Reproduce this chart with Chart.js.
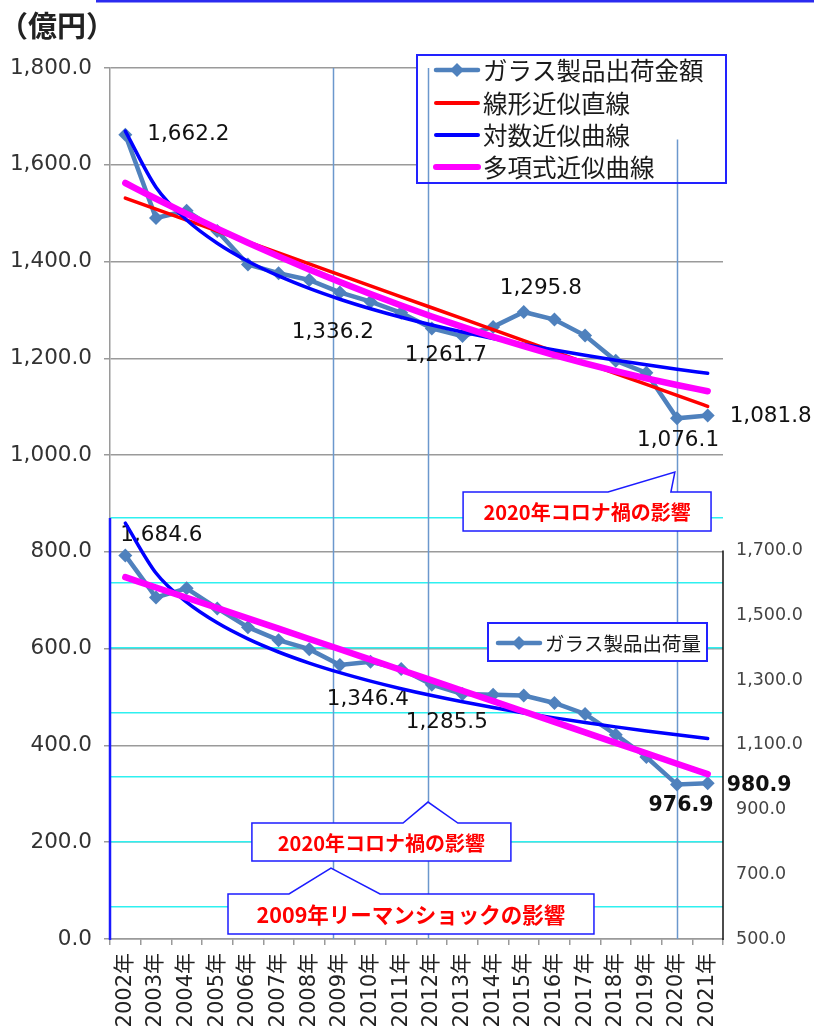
<!DOCTYPE html>
<html>
<head>
<meta charset="utf-8">
<title>ガラス製品出荷金額・出荷量</title>
<script src="https://cdn.jsdelivr.net/npm/chart.js"></script>
<style>
  body { margin: 0; background: #fff; }
  canvas { display: block; }
</style>
</head>
<body>
<canvas id="glassChart" width="814" height="1031"></canvas>
<script>
  // --- data ---
  const years = ['2002年', '2003年', '2004年', '2005年', '2006年', '2007年', '2008年', '2009年', '2010年', '2011年',
                 '2012年', '2013年', '2014年', '2015年', '2016年', '2017年', '2018年', '2019年', '2020年', '2021年'];
  // 出荷金額 (億円, left axis)
  const amount = [1662.2, 1490, 1505, 1463, 1394, 1376, 1362, 1336.2, 1317, 1294,
                  1261.7, 1246, 1265, 1295.8, 1280, 1247, 1195, 1170, 1076.1, 1081.8];
  // 出荷量 (right axis)
  const quantity = [1684.6, 1555, 1583, 1521, 1463, 1423, 1395, 1346.4, 1356, 1334,
                    1285.5, 1257, 1254, 1252, 1229, 1195, 1131, 1062, 976.9, 980.9];
  const leftTicks = [0, 200, 400, 600, 800, 1000, 1200, 1400, 1600, 1800];
  const rightTicks = [500, 700, 900, 1100, 1300, 1500, 1700];
  const rightGrid = [600, 800, 1000, 1200, 1400, 1600, 1800];
  const amountLabelYears = ['2002年', '2009年', '2012年', '2015年', '2020年', '2021年'];
  const quantityLabelYears = ['2002年', '2009年', '2012年', '2020年', '2021年'];
  const eventYears = ['2009年', '2012年', '2020年'];

  const tickFont = "'DejaVu Sans', 'Noto Sans CJK JP', sans-serif";
  const jpFont = "'Noto Sans CJK JP', sans-serif";
  const fmt = v => v.toLocaleString('en-US', { minimumFractionDigits: 1, maximumFractionDigits: 1 });

  // trend lines, same fits as the spreadsheet (x = 1..n)
  function fitLine(ys, tx) {
    const n = ys.length;
    let sx = 0, sy = 0, sxx = 0, sxy = 0;
    ys.forEach((y, i) => { const x = tx(i + 1); sx += x; sy += y; sxx += x * x; sxy += x * y; });
    const b = (n * sxy - sx * sy) / (n * sxx - sx * sx);
    const a = (sy - b * sx) / n;
    return ys.map((_, i) => a + b * tx(i + 1));
  }
  const linearTrend = ys => fitLine(ys, x => x);
  const logTrend = ys => fitLine(ys, x => Math.log(x));
  function polyTrend(ys) {
    const S = [0, 0, 0, 0, 0], T = [0, 0, 0];
    ys.forEach((y, i) => {
      const x = i + 1;
      for (let k = 0; k < 5; k++) S[k] += Math.pow(x, k);
      for (let k = 0; k < 3; k++) T[k] += Math.pow(x, k) * y;
    });
    const m = [[S[0], S[1], S[2], T[0]], [S[1], S[2], S[3], T[1]], [S[2], S[3], S[4], T[2]]];
    for (let c = 0; c < 3; c++) {
      for (let r = c + 1; r < 3; r++) {
        const f = m[r][c] / m[c][c];
        for (let k = c; k < 4; k++) m[r][k] -= f * m[c][k];
      }
    }
    const co = [0, 0, 0];
    for (let r = 2; r >= 0; r--) {
      let s = m[r][3];
      for (let k = r + 1; k < 3; k++) s -= m[r][k] * co[k];
      co[r] = s / m[r][r];
    }
    return ys.map((_, i) => co[0] + co[1] * (i + 1) + co[2] * (i + 1) * (i + 1));
  }

  const callouts = [
    { text: '2020年コロナ禍の影響', size: 20, box: [11.02, 923.8, 19.11, 843.2], tip: [15.75, 17.93, 965, 17.8] },
    { text: '2020年コロナ禍の影響', size: 20, box: [4.13, 239.7, 12.58, 161.2], tip: [9.06, 9.875, 283, 10.85] },
    { text: '2009年リーマンショックの影響', size: 21.5, box: [3.35, 93, 15.29, 10.3], tip: [5.34, 6.71, 146.7, 8.31] }
  ];
  // event lines sit a little left of the category centre in the original
  const eventShift = [-0.22, -0.12, 0];

  function legendRow(ctx, x0, y, color, width, marker, text, size) {
    ctx.strokeStyle = color;
    ctx.lineWidth = width;
    ctx.lineCap = 'round';
    ctx.beginPath(); ctx.moveTo(x0, y); ctx.lineTo(x0 + 42, y); ctx.stroke();
    if (marker) {
      ctx.fillStyle = color;
      ctx.beginPath();
      ctx.moveTo(x0 + 21, y - 7); ctx.lineTo(x0 + 28, y); ctx.lineTo(x0 + 21, y + 7); ctx.lineTo(x0 + 14, y);
      ctx.closePath(); ctx.fill();
    }
    ctx.fillStyle = '#1a1a1a';
    ctx.font = size + 'px ' + jpFont;
    ctx.textAlign = 'left';
    ctx.textBaseline = 'middle';
    ctx.fillText(text, x0 + 47, y + 1);
  }

  function pointLabels(chart, dsIndex, list, style) {
    const ctx = chart.ctx, meta = chart.getDatasetMeta(dsIndex), data = chart.data.datasets[dsIndex].data;
    list.forEach((yr, k) => {
      const i = years.indexOf(yr), p = meta.data[i], s = style[k];
      ctx.font = s[3] + ' ' + tickFont;
      ctx.textAlign = s[2];
      ctx.textBaseline = 'middle';
      ctx.fillStyle = '#111';
      ctx.fillText(fmt(data[i]), p.x + s[0], p.y + s[1]);
    });
  }

  const overlay = {
    id: 'overlay',
    beforeDatasetsDraw(chart) {
      const ctx = chart.ctx, x = chart.scales.x, y = chart.scales.y, y2 = chart.scales.y2, a = chart.chartArea;
      ctx.save();
      ctx.fillStyle = '#fff';
      ctx.fillRect(417, 55, 309, 128);

      // event lines
      ctx.strokeStyle = '#6b98cd';
      ctx.lineWidth = 1.5;
      eventYears.forEach((yr, k) => {
        const px = Math.round(x.getPixelForValue(years.indexOf(yr) + eventShift[k])) + 0.5;
        const top = k === 2 ? y.getPixelForValue(1652) : a.top;
        ctx.beginPath(); ctx.moveTo(px, top); ctx.lineTo(px, a.bottom); ctx.stroke();
      });

      // lower chart frame and right axis line
      ctx.strokeStyle = '#1a1aff';
      ctx.lineWidth = 2.5;
      ctx.beginPath(); ctx.moveTo(a.left, y2.getPixelForValue(1800)); ctx.lineTo(a.left, a.bottom + 1); ctx.stroke();
      ctx.strokeStyle = '#111';
      ctx.lineWidth = 1.5;
      ctx.beginPath(); ctx.moveTo(a.right, y2.getPixelForValue(1700)); ctx.lineTo(a.right, a.bottom + 1); ctx.stroke();

      // upper legend
      ctx.strokeStyle = '#2222ff';
      ctx.lineWidth = 2;
      ctx.strokeRect(417, 55, 309, 128);
      legendRow(ctx, 436, 70, '#4f81bd', 4.5, true, 'ガラス製品出荷金額', 24.5);
      legendRow(ctx, 436, 103, '#ff0000', 4, false, '線形近似直線', 24.5);
      legendRow(ctx, 436, 135, '#0000ff', 4, false, '対数近似曲線', 24.5);
      legendRow(ctx, 436, 167, '#ff00ff', 6, false, '多項式近似曲線', 24.5);

      // lower legend
      ctx.fillStyle = '#fff';
      ctx.fillRect(488, 623, 219, 38);
      ctx.strokeStyle = '#2222ff';
      ctx.lineWidth = 2;
      ctx.strokeRect(488, 623, 219, 38);
      legendRow(ctx, 498, 643, '#4f81bd', 4.5, true, 'ガラス製品出荷量', 19.5);

      // value labels
      pointLabels(chart, 0, amountLabelYears, [
        [22, 0, 'left', '21.5px'], [-7, 40, 'center', '21.5px'], [14, 27, 'center', '21.5px'],
        [17, -24, 'center', '21.5px'], [1, 22, 'center', '21.5px'], [22, 1, 'left', '21.5px']
      ]);
      pointLabels(chart, 4, quantityLabelYears, [
        [-5, -20, 'left', '21.5px'], [28, 34, 'center', '21.5px'], [15, 38, 'center', '21.5px'],
        [4, 21, 'center', 'bold 20.5px'], [19, 2, 'left', 'bold 20.5px']
      ]);
      ctx.restore();
    },
    afterDatasetsDraw(chart) {
      const ctx = chart.ctx, x = chart.scales.x, y = chart.scales.y;
      ctx.save();
      callouts.forEach(c => {
        const L = x.getPixelForValue(c.box[0]), R = x.getPixelForValue(c.box[2]);
        const T = y.getPixelForValue(c.box[1]), B = y.getPixelForValue(c.box[3]);
        const ax = x.getPixelForValue(c.tip[0]), tx = x.getPixelForValue(c.tip[1]);
        const ty = y.getPixelForValue(c.tip[2]), bx = x.getPixelForValue(c.tip[3]);
        ctx.beginPath();
        ctx.moveTo(L, T); ctx.lineTo(ax, T); ctx.lineTo(tx, ty); ctx.lineTo(bx, T);
        ctx.lineTo(R, T); ctx.lineTo(R, B); ctx.lineTo(L, B); ctx.closePath();
        ctx.fillStyle = '#fff';
        ctx.fill();
        ctx.strokeStyle = '#1c1cff';
        ctx.lineWidth = 1.5;
        ctx.lineJoin = 'miter';
        ctx.stroke();
        ctx.fillStyle = '#ff0000';
        ctx.font = 'bold ' + c.size + 'px ' + jpFont;
        ctx.textAlign = 'center';
        ctx.textBaseline = 'middle';
        ctx.fillText(c.text, (L + R) / 2, (T + B) / 2 + 1);
      });

      ctx.fillStyle = '#222';
      ctx.font = 'bold 29px ' + jpFont;
      ctx.textAlign = 'left';
      ctx.textBaseline = 'middle';
      ctx.fillText('（億円）', -1, 26);

      ctx.strokeStyle = '#2b2bf0';
      ctx.lineWidth = 3;
      ctx.beginPath(); ctx.moveTo(96, 1); ctx.lineTo(814, 1); ctx.stroke();
      ctx.restore();
    }
  };

  const series = (label, data, axis, order) => ({
    label, data, yAxisID: axis, order,
    borderColor: '#4f81bd', backgroundColor: '#4f81bd', borderWidth: 4.5,
    pointStyle: 'rectRot', pointRadius: 7, pointBorderWidth: 0
  });
  const trend = (label, data, axis, color, width, order) => ({
    label, data, yAxisID: axis, order,
    borderColor: color, borderWidth: width, pointRadius: 0,
    cubicInterpolationMode: 'monotone', borderCapStyle: 'round'
  });

  new Chart(document.getElementById('glassChart'), {
    type: 'line',
    data: {
      labels: years,
      datasets: [
        series('ガラス製品出荷金額', amount, 'y', 6),
        trend('線形近似直線', linearTrend(amount), 'y', '#ff0000', 3.5, 4),
        trend('対数近似曲線', logTrend(amount), 'y', '#0000ff', 3.5, 3),
        trend('多項式近似曲線', polyTrend(amount), 'y', '#ff00ff', 6.5, 1),
        series('ガラス製品出荷量', quantity, 'y2', 5),
        trend('対数近似曲線', logTrend(quantity), 'y2', '#0000ff', 3.5, 2),
        trend('多項式近似曲線', polyTrend(quantity), 'y2', '#ff00ff', 6.5, 0)
      ]
    },
    options: {
      responsive: false,
      animation: false,
      events: [],
      layout: { padding: { top: 68, left: 0, right: 0, bottom: 0 } },
      plugins: { legend: { display: false }, tooltip: { enabled: false } },
      scales: {
        x: {
          offset: true,
          grid: { offset: true, drawOnChartArea: false, tickLength: 6, color: '#9a9a9a', lineWidth: 1.5 },
          border: { color: '#9a9a9a', width: 1.5 },
          ticks: { minRotation: 90, maxRotation: 90, autoSkip: false, padding: 8, color: '#222',
                   font: { family: tickFont, size: 21 } },
          afterFit: s => { s.height = 92; }
        },
        y: {
          position: 'left',
          min: leftTicks[0],
          max: leftTicks[leftTicks.length - 1],
          ticks: { stepSize: 200, autoSkip: false, padding: 12, color: '#333',
                   font: { family: tickFont, size: 21.5 }, callback: v => fmt(v) },
          grid: { color: '#9a9a9a', lineWidth: 1.5, tickLength: 6 },
          border: { color: '#9a9a9a', width: 1.5 },
          afterFit: s => { s.width = 110; }
        },
        y2: {
          position: 'right',
          min: 500,
          max: 3190,
          afterBuildTicks: s => {
            s.ticks = rightTicks.concat(rightGrid).sort((p, q) => p - q).map(v => ({ value: v }));
          },
          ticks: { autoSkip: false, padding: 13, color: '#444',
                   font: { family: tickFont, size: 17.5 },
                   callback: v => rightTicks.includes(v) ? fmt(v) : '' },
          grid: { drawTicks: false, lineWidth: 1.5,
                  color: c => (c.tick && rightGrid.includes(c.tick.value)) ? '#2ef0f0' : 'rgba(0,0,0,0)' },
          border: { display: false },
          afterFit: s => { s.width = 91; }
        }
      }
    },
    plugins: [overlay]
  });
</script>
</body>
</html>
